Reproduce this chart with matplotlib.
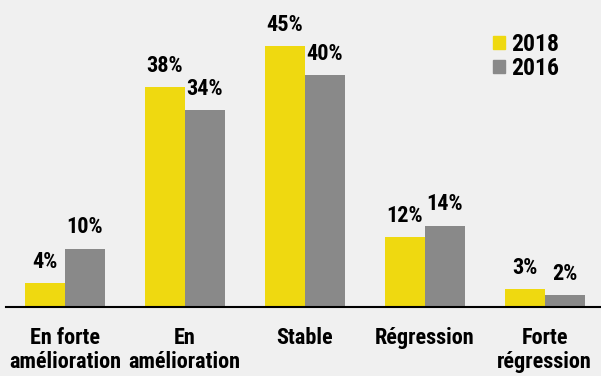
import numpy as np
import matplotlib.pyplot as plt
from matplotlib.patches import Patch

categories = ['En forte\namélioration', 'En\namélioration', 'Stable', 'Régression', 'Forte\nrégression']
series_2018 = [4, 38, 45, 12, 3]
series_2016 = [10, 34, 40, 14, 2]
series_names = ['2018', '2016']

YELLOW = '#efd910'
GREY = '#898989'
BG = '#f0f0f0'

plt.rcParams['font.family'] = ['Roboto Condensed', 'Liberation Sans', 'DejaVu Sans']
plt.rcParams['font.weight'] = 'bold'
FS = 16

fig = plt.figure(figsize=(6.01, 3.76), dpi=100, facecolor=BG)
# axes spans from the left margin to the right edge, baseline ~70px from bottom
ax = fig.add_axes([6 / 601, 69.5 / 376, 595 / 601, 289 / 376], facecolor=BG)

x = np.arange(len(categories))
w = 0.333
b1 = ax.bar(x - w / 2, series_2018, w, color=YELLOW, label=series_names[0])
b2 = ax.bar(x + w / 2, series_2016, w, color=GREY, label=series_names[1])

for bars, vals in ((b1, series_2018), (b2, series_2016)):
    for r, v in zip(bars, vals):
        ax.annotate('{}%'.format(v), (r.get_x() + r.get_width() / 2, v),
                    xytext=(0, 11), textcoords='offset points',
                    ha='center', va='baseline', fontsize=FS, fontweight='bold')

ax.set_xlim(-0.49, 4.47)
ax.set_ylim(0, 50)
for s in ['top', 'right', 'left']:
    ax.spines[s].set_visible(False)
ax.spines['bottom'].set_linewidth(1.5)
ax.set_yticks([])
ax.set_xticks(x)
ax.set_xticklabels(categories, fontsize=FS, fontweight='bold', linespacing=1.1)
ax.tick_params(axis='x', length=0, pad=15)

handles = [Patch(color=YELLOW), Patch(color=GREY)]
ax.legend(handles, series_names, loc='upper left', bbox_to_anchor=(0.803, 0.98),
          frameon=False, handlelength=0.5, handleheight=0.5,
          handletextpad=0.25, labelspacing=0.05, borderaxespad=0,
          prop={'weight': 'bold', 'size': 17})

fig.savefig('out.png', dpi=100, facecolor=BG)
